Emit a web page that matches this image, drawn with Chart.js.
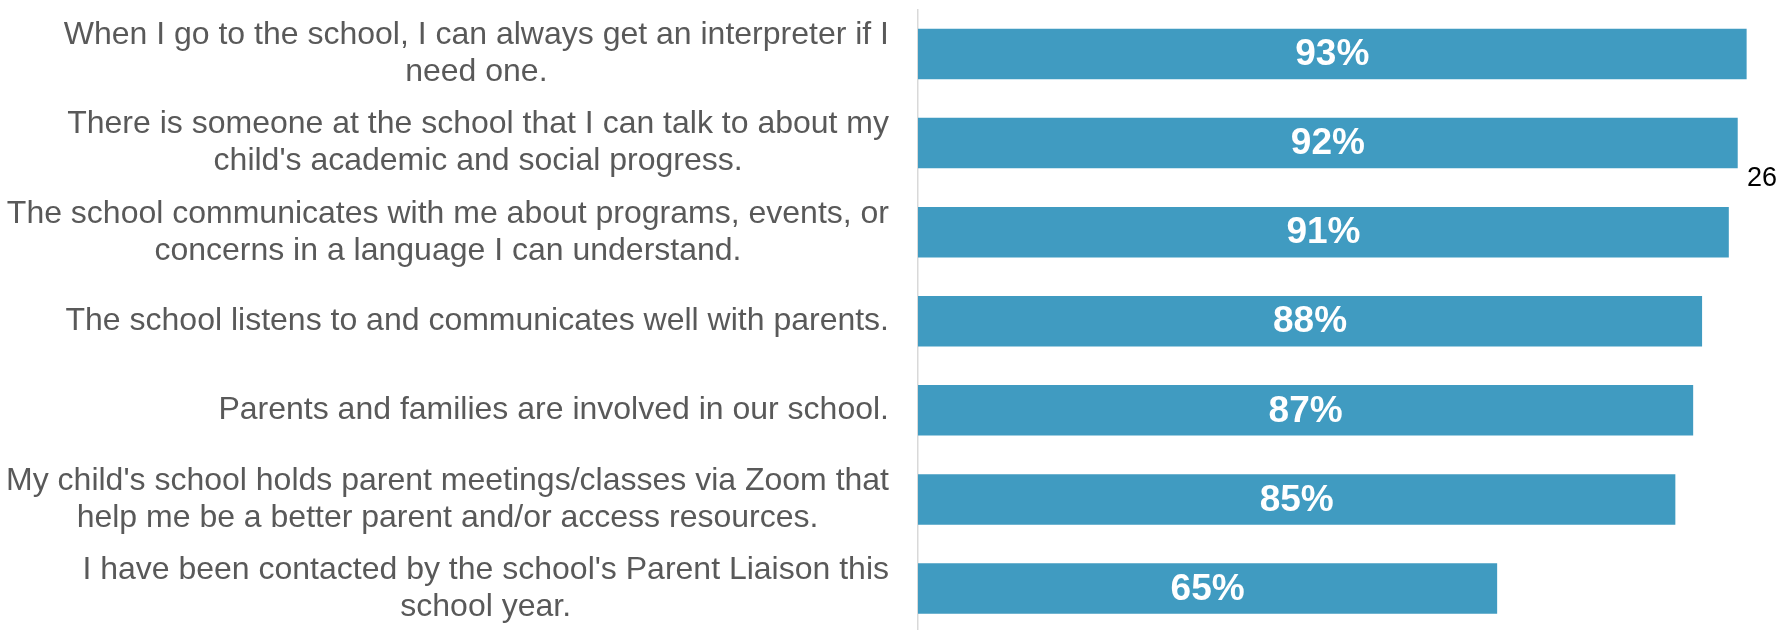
<!DOCTYPE html>
<html>
<head>
<meta charset="utf-8">
<script src="https://cdn.jsdelivr.net/npm/chart.js@4/dist/chart.umd.min.js"></script>
<style>
    html, body {
        margin: 0;
        padding: 0;
        background: #ffffff;
        overflow: hidden;
    }
    #wrap {
        position: absolute;
        left: 0;
        top: 0;
        width: 1809px;
        height: 633px;
    }
    #pageNum {
        position: absolute;
        left: 1747px;
        top: 164px;
        font: 27px "Liberation Sans", Arial, sans-serif;
        line-height: 27px;
        color: #000000;
    }
</style>
</head>
<body>
<div id="wrap"><canvas id="surveyChart"></canvas></div>
<div id="pageNum">26</div>

<script>
// Survey statements (line breaks as in the original slide)
const categories = [
    ['When I go to the school, I can always get an interpreter if I', 'need one.'],
    ['There is someone at the school that I can talk to about my', "child's academic and social progress."],
    ['The school communicates with me about programs, events, or', 'concerns in a language I can understand.'],
    ['The school listens to and communicates well with parents.'],
    ['Parents and families are involved in our school.'],
    ["My child's school holds parent meetings/classes via Zoom that", 'help me be a better parent and/or access resources.'],
    ["I have been contacted by the school's Parent Liaison this", 'school year.']
];

// Percent agreeing
const agreeValues = [93, 92, 91, 88, 87, 85, 65];

const FONT = '"Liberation Sans", Arial, sans-serif';

// Draws the multi-line statements: block right-aligned, lines centered
const statementLabels = {
    id: 'statementLabels',
    afterDraw(chart) {
        const ctx = chart.ctx;
        const yScale = chart.scales.y;
        const rightEdge = yScale.right - 29;
        const lineHeight = 37;
        ctx.save();
        ctx.font = '32px ' + FONT;
        ctx.fillStyle = '#595959';
        ctx.textAlign = 'center';
        ctx.textBaseline = 'middle';
        categories.forEach(function(lines, i) {
            const y = yScale.getPixelForValue(i);
            let maxW = 0;
            lines.forEach(function(l) {
                maxW = Math.max(maxW, ctx.measureText(l).width);
            });
            const cx = rightEdge - maxW / 2;
            const startY = y - (lines.length - 1) * lineHeight / 2;
            lines.forEach(function(l, j) {
                ctx.fillText(l, cx, startY + j * lineHeight);
            });
        });
        ctx.restore();
    }
};

// Value labels centered inside each bar
const barValues = {
    id: 'barValues',
    afterDatasetsDraw(chart) {
        const ctx = chart.ctx;
        const meta = chart.getDatasetMeta(0);
        ctx.save();
        ctx.font = 'bold 37px ' + FONT;
        ctx.fillStyle = '#ffffff';
        ctx.textAlign = 'center';
        ctx.textBaseline = 'middle';
        meta.data.forEach(function(bar, i) {
            const x = (bar.x + bar.base) / 2;
            ctx.fillText(agreeValues[i] + '%', x, bar.y + 1);
        });
        ctx.restore();
    }
};

const ctx = document.getElementById('surveyChart').getContext('2d');
const surveyChart = new Chart(ctx, {
    type: 'bar',
    data: {
        labels: categories,
        datasets: [{
            data: agreeValues,
            backgroundColor: '#409BC1',
            borderWidth: 0,
            categoryPercentage: 1,
            barPercentage: 0.567
        }]
    },
    options: {
        indexAxis: 'y',
        responsive: true,
        maintainAspectRatio: false,
        animation: false,
        layout: {
            padding: { top: 9.5, right: 0, bottom: 0, left: 0 }
        },
        plugins: {
            legend: { display: false },
            tooltip: { enabled: false }
        },
        scales: {
            x: {
                display: false,
                min: 0,
                max: 100
            },
            y: {
                grid: { display: false },
                border: { display: true, color: '#d9d9d9', width: 1.5 },
                ticks: { display: false },
                afterFit: function(scale) {
                    scale.width = 918;
                }
            }
        }
    },
    plugins: [statementLabels, barValues]
});
</script>
</body>
</html>
